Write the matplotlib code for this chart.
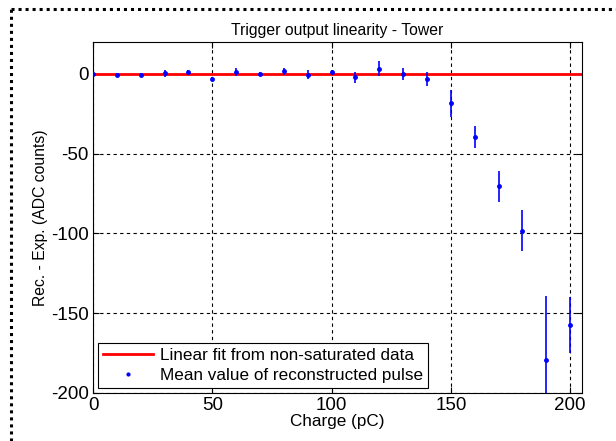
import numpy as np
from matplotlib import pyplot as plt
from matplotlib.lines import Line2D

plt.rcParams['font.family'] = ['Liberation Sans', 'DejaVu Sans']
plt.rcParams['axes.unicode_minus'] = False

charge = [0, 10, 20, 30, 40, 50, 60, 70, 80, 90, 100,
          110, 120, 130, 140, 150, 160, 170, 180, 190, 200]
residual = [0.0, -0.5, -0.5, 0.3, 1.0, -3.0, 1.2, 0.0, 1.5, -0.5, 1.0,
            -2.3, 3.3, 0.0, -3.3, -18.5, -39.8, -70.6, -98.3, -179.4, -157.3]
error = [0.5, 1.0, 1.0, 2.0, 1.5, 1.2, 2.5, 1.2, 2.0, 3.0, 1.5,
         3.6, 4.9, 3.9, 4.2, 8.5, 7.0, 10.0, 12.7, 40.0, 17.4]
fit_x = [0, 205]
fit_y = [0, 0]

fig = plt.figure(figsize=(6.16, 4.41), dpi=100)
ax = fig.add_axes([0.151, 0.109, 0.794, 0.796])

# dotted frame around the figure (only left and top visible)
fig.add_artist(Line2D([0.018, 0.018], [0.0, 0.98], color='black', lw=2.2,
                      linestyle=(0, (1, 1.3)), transform=fig.transFigure))
fig.add_artist(Line2D([0.018, 1.0], [0.98, 0.98], color='black', lw=2.2,
                      linestyle=(0, (1, 1.3)), transform=fig.transFigure))

ax.plot(fit_x, fit_y, color='red', lw=2, label='Linear fit from non-saturated data', zorder=2)
ax.errorbar(charge, residual, yerr=error, fmt='none', ecolor='blue',
            elinewidth=1.2, capsize=0, zorder=3)
ax.plot(charge, residual, '.', color='blue', markersize=5, zorder=4,
        label='Mean value of reconstructed pulse')

ax.set_xlim(0, 205)
ax.set_ylim(-200, 20)
ax.set_xticks([0, 50, 100, 150, 200])
ax.set_yticks([-200, -150, -100, -50, 0])
ax.grid(True, color='black', linestyle=(0, (3, 3)), lw=0.8)
ax.tick_params(labelsize=13.5, direction='in', length=4, pad=3,
               top=True, right=True)
ax.set_xlabel('Charge (pC)', fontsize=12.3, labelpad=0)
ax.set_ylabel('Rec. - Exp. (ADC counts)', fontsize=11.3, labelpad=2)
ax.set_title('Trigger output linearity - Tower', fontsize=11.3, pad=5)

leg = ax.legend(loc='lower left', fontsize=12.3, fancybox=False, framealpha=1,
                edgecolor='black', borderaxespad=0.3, handlelength=2.9,
                handletextpad=0.4, borderpad=0.3, labelspacing=0.25,
                markerscale=0.8)
leg.get_frame().set_linewidth(0.8)

plt.savefig('out.png', dpi=100)
